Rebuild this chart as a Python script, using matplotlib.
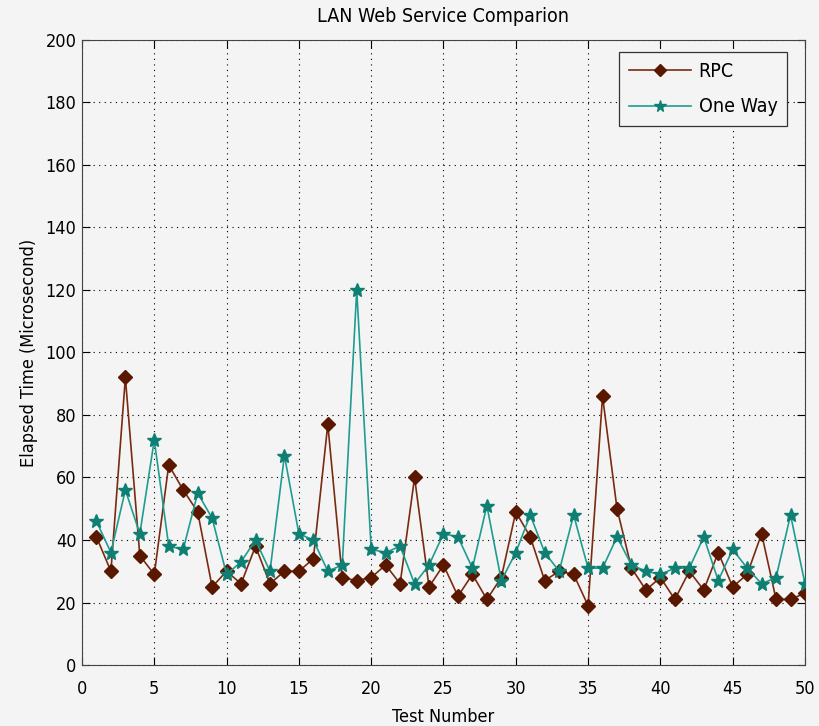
import numpy as np
import matplotlib
matplotlib.use("Agg")
import matplotlib.pyplot as plt

test_no = list(range(1, 51))
rpc = [41, 30, 92, 35, 29, 64, 56, 49, 25, 30,
       26, 38, 26, 30, 30, 34, 77, 28, 27, 28,
       32, 26, 60, 25, 32, 22, 29, 21, 28, 49,
       41, 27, 30, 29, 19, 86, 50, 31, 24, 28,
       21, 30, 24, 36, 25, 29, 42, 21, 21, 23]
one_way = [46, 36, 56, 42, 72, 38, 37, 55, 47, 29,
           33, 40, 30, 67, 42, 40, 30, 32, 120, 37,
           36, 38, 26, 32, 42, 41, 31, 51, 27, 36,
           48, 36, 30, 48, 31, 31, 41, 32, 30, 29,
           31, 31, 41, 27, 37, 31, 26, 28, 48, 26]

BG = "#f4f4f4"
plt.rcParams["font.family"] = ["DejaVu Sans"]
plt.rcParams["font.stretch"] = "condensed"

fig = plt.figure(figsize=(8.19, 7.26), dpi=100, facecolor=BG)
ax = fig.add_axes([0.1001, 0.084, 0.8828, 0.861], facecolor=BG)

ax.plot(test_no, rpc, "-", color="#7a2a10", lw=1.2, marker="D", ms=7.5,
        mfc="#5a1800", mec="#5a1800", label="RPC", zorder=3)
ax.plot(test_no, one_way, "-", color="#1f9c90", lw=1.2, marker="*", ms=10,
        mfc="#0e7f72", mec="#0e7f72", label="One Way", zorder=3)

ax.set_xlim(0, 50)
ax.set_ylim(0, 200)
ax.set_xticks(np.arange(0, 51, 5))
ax.set_yticks(np.arange(0, 201, 20))
ax.grid(True, color="black", ls=(0, (1, 4)), lw=0.8)
ax.tick_params(direction="in", top=True, right=True, length=6, labelsize=13)
ax.tick_params(axis="x", pad=11)
ax.tick_params(axis="y", pad=4)
for s in ax.spines.values():
    s.set_color("#444444")

ax.set_title("LAN Web Service Comparion", fontsize=14, pad=13)
ax.set_xlabel("Test Number", fontsize=13, labelpad=7)
ax.set_ylabel("Elapsed Time (Microsecond)", fontsize=13, labelpad=5)

leg = ax.legend(loc="upper right", fontsize=14, fancybox=False, framealpha=1,
                facecolor=BG, edgecolor="#333333", borderpad=0.5,
                handlelength=3.2, handletextpad=0.4, labelspacing=0.85,
                markerscale=0.85, bbox_to_anchor=(0.989, 0.996))
leg.get_frame().set_linewidth(0.9)

fig.savefig("out.png", dpi=100, facecolor=BG)
